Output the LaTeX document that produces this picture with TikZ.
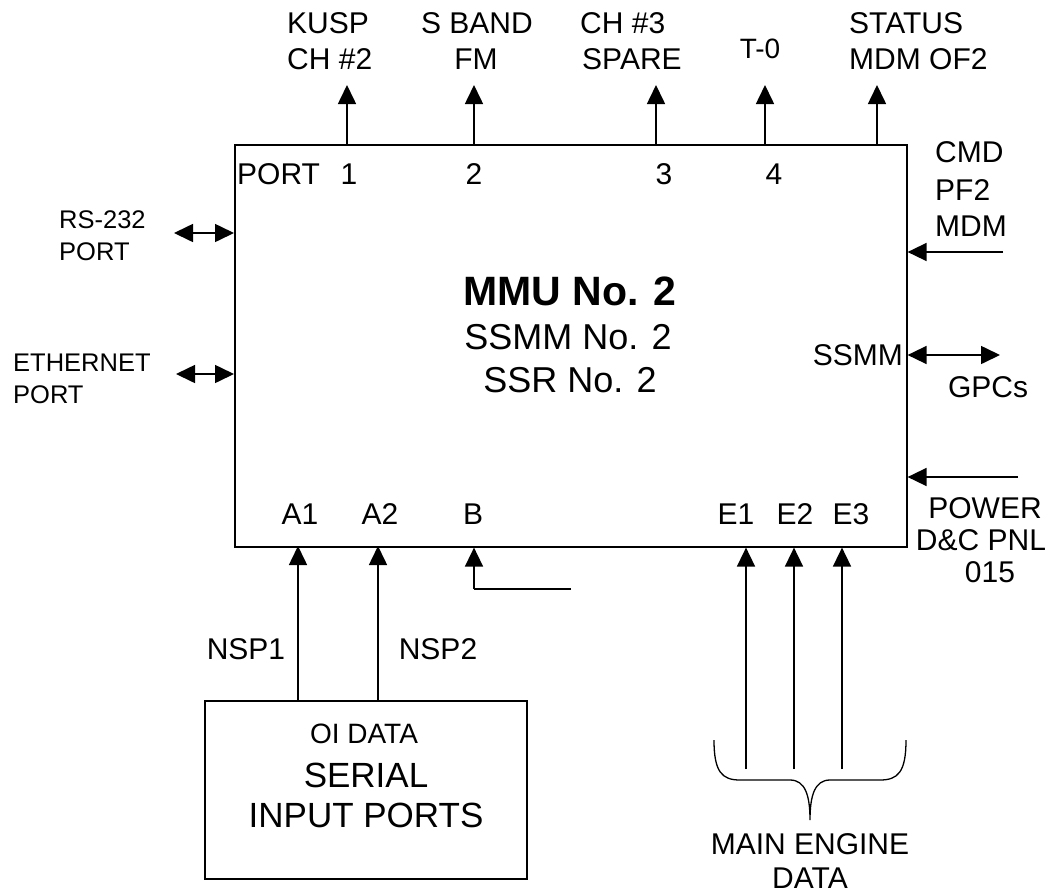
\documentclass[tikz,border=0pt]{standalone}
\usepackage{fontspec}
\setmainfont{Liberation Sans}
\usetikzlibrary{arrows.meta}
\tikzset{
  mytip/.tip={Triangle[length=19pt,width=18pt]},
  lbl/.style={font=\fontsize{30}{34}\selectfont, inner sep=0pt, anchor=base},
  lblw/.style={lbl, anchor=base west},
  lble/.style={lbl, anchor=base east},
  sml/.style={font=\fontsize{25.5}{28}\selectfont, inner sep=0pt, anchor=base west},
  big/.style={font=\fontsize{36}{40}\selectfont, inner sep=0pt, anchor=base},
  wire/.style={line width=1.6pt, draw=black},
  arr/.style={wire, -mytip},
  dbl/.style={wire, mytip-mytip},
  boxst/.style={wire, inner sep=0pt, anchor=north west}
}
\begin{document}
\begin{tikzpicture}[x=1pt,y=-1pt]
\useasboundingbox (0,0) rectangle (1057,895);

% main box
\node[boxst, minimum width=672pt, minimum height=402pt] (mmu) at (234,144) {};
\node[font=\bfseries\fontsize{41}{45}\selectfont, inner sep=0pt, anchor=base] (t1) at (570,305) {MMU No. 2};
\node[big] (t2) at (568,349) {SSMM No. 2};
\node[big] (t3) at (570,392) {SSR No. 2};

% top labels
\node[lblw] (kusp) at (287,33) {KUSP};
\node[lblw] (ch2) at (287,69) {CH \#2};
\node[lbl] (sband) at (477,33) {S BAND};
\node[lbl] (fm) at (476,69) {FM};
\node[lblw] (ch3) at (580,33) {CH \#3};
\node[lblw] (spare) at (582,69) {SPARE};
\node[font=\fontsize{28}{30}\selectfont, inner sep=0pt, anchor=base] (t0) at (760,58) {T-0};
\node[lblw] (status) at (849,33) {STATUS};
\node[lblw] (mdmof) at (849,69) {MDM OF2};

% port labels
\node[lblw] (port) at (237,184) {PORT};
\node[lbl] (n1) at (349,184) {1};
\node[lbl] (n2) at (474,184) {2};
\node[lbl] (n3) at (664,184) {3};
\node[lbl] (n4) at (774,184) {4};

% top arrows
\coordinate (o1) at (347,85);
\coordinate (o2) at (474,85);
\coordinate (o3) at (656,85);
\coordinate (o4) at (765,85);
\coordinate (o5) at (877,85);
\foreach \c in {o1,o2,o3,o4,o5} \draw[arr] (mmu.north -| \c) -- (\c);

% left ports
\node[sml] (rs1) at (59,228) {RS-232};
\node[sml] (rs2) at (59,260) {PORT};
\node[sml] (et1) at (13,371) {ETHERNET};
\node[sml] (et2) at (13,403) {PORT};
\coordinate (rsend) at (174,233);
\coordinate (etend) at (176,374);
\draw[dbl] (rsend) -- (rsend -| mmu.west);
\draw[dbl] (etend) -- (etend -| mmu.west);

% right side
\node[lblw] (cmd1) at (935,162) {CMD};
\node[lblw] (cmd2) at (935,200) {PF2};
\node[lblw] (cmd3) at (935,236) {MDM};
\coordinate (cmdend) at (1003,252);
\draw[arr] (cmdend) -- (cmdend -| mmu.east);

\node[lble] (ssmm) at (903,365) {SSMM};
\coordinate (gpcend) at (1000,355);
\draw[dbl] (gpcend -| mmu.east) -- (gpcend);
\node[lbl] (gpcs) at (988,397) {GPCs};

\coordinate (pwrend) at (1018,477);
\draw[arr] (pwrend) -- (pwrend -| mmu.east);
\node[lbl] (pw1) at (985,518) {POWER};
\node[lbl] (pw2) at (981,550) {D\&C PNL};
\node[lbl] (pw3) at (990,582) {015};

% bottom labels
\node[lbl] (a1) at (300,524) {A1};
\node[lbl] (a2) at (380,524) {A2};
\node[lbl] (b) at (473,524) {B};
\node[lbl] (e1) at (736,524) {E1};
\node[lbl] (e2) at (795,524) {E2};
\node[lbl] (e3) at (851,524) {E3};

% lower box
\node[boxst, minimum width=322pt, minimum height=178pt] (oi) at (204,700) {};
\node[font=\fontsize{28}{30}\selectfont, inner sep=0pt, anchor=base] (oi1) at (364,743) {OI DATA};
\node[font=\fontsize{35}{40}\selectfont, inner sep=0pt, anchor=base] (oi2) at (366,787) {SERIAL};
\node[font=\fontsize{35}{40}\selectfont, inner sep=0pt, anchor=base] (oi3) at (366,827) {INPUT PORTS};

\node[lbl] (nsp1) at (246,659) {NSP1};
\node[lbl] (nsp2) at (438,659) {NSP2};

\coordinate (pa1) at (298,546);
\coordinate (pa2) at (378,546);
\draw[arr] (oi.north -| pa1) -- (pa1);
\draw[arr] (oi.north -| pa2) -- (pa2);

% B input
\coordinate (bcorner) at (474,589);
\coordinate (bend) at (571,589);
\draw[wire] (bend) -- (bcorner);
\draw[arr] (bcorner) -- (bcorner |- mmu.south);

% engine inputs
\coordinate (me1) at (746,769);
\coordinate (me2) at (794,769);
\coordinate (me3) at (842,769);
\foreach \c in {me1,me2,me3} \draw[arr] (\c) -- (\c |- mmu.south);

% brace
\draw[line width=1.3pt] (714,740) .. controls (714,772) and (722,780) .. (740,780)
  -- (790,780) .. controls (805,780) and (810,795) .. (810,820)
  .. controls (810,795) and (815,780) .. (830,780)
  -- (880,780) .. controls (898,780) and (906,772) .. (906,740);

\node[lbl] (me1t) at (810,854) {MAIN ENGINE};
\node[lbl] (me2t) at (810,888) {DATA};
\end{tikzpicture}
\end{document}
